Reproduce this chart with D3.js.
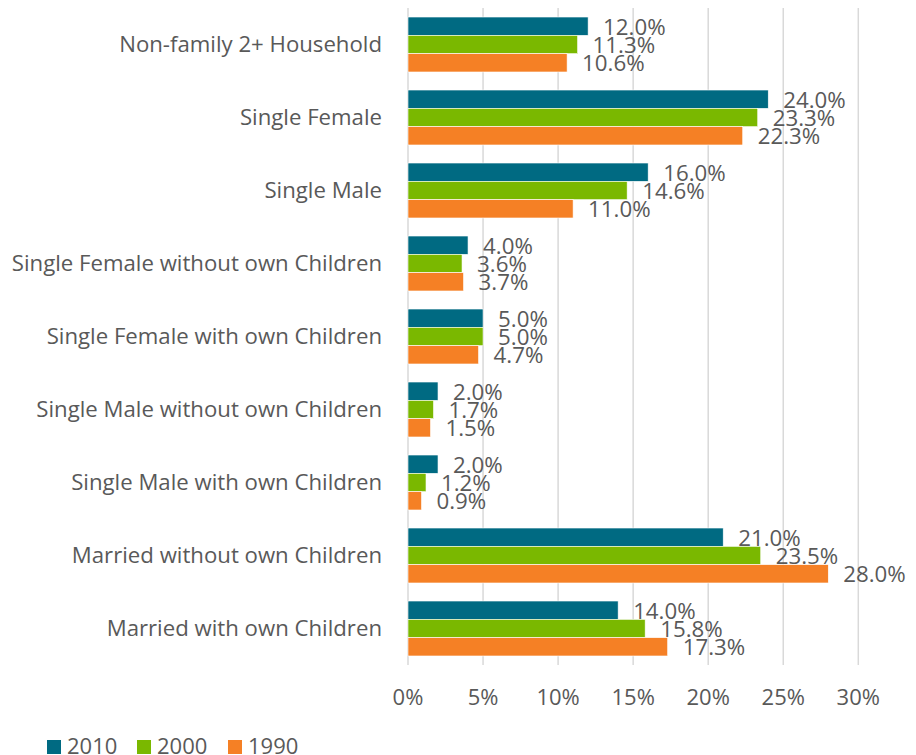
<!DOCTYPE html>
<html>
<head>
<meta charset="utf-8" />
<title>Household types</title>
<script src="https://cdn.jsdelivr.net/npm/d3@7"></script>
<style>
  body { margin: 0; background: #fff; }
  text { font-family: "Open Sans", "Noto Sans", sans-serif; fill: #595959; }
</style>
</head>
<body>
<div id="chart"></div>
<script>
var categories = ["Non-family 2+ Household", "Single Female", "Single Male",
  "Single Female without own Children", "Single Female with own Children",
  "Single Male without own Children", "Single Male with own Children",
  "Married without own Children", "Married with own Children"];
var years = ["2010", "2000", "1990"];
var values2010 = [12.0, 24.0, 16.0, 4.0, 5.0, 2.0, 2.0, 21.0, 14.0];
var values2000 = [11.3, 23.3, 14.6, 3.6, 5.0, 1.7, 1.2, 23.5, 15.8];
var values1990 = [10.6, 22.3, 11.0, 3.7, 4.7, 1.5, 0.9, 28.0, 17.3];
var xTicks = [0, 5, 10, 15, 20, 25, 30];

var colors = { "2010": "#006A82", "2000": "#7AB800", "1990": "#F58025" };
var seriesValues = { "2010": values2010, "2000": values2000, "1990": values1990 };

var width = 916, height = 755;
var plotLeft = 408, plotRight = 858.3, plotTop = 8, plotBottom = 665;

var svg = d3.select("#chart").append("svg").attr("width", width).attr("height", height);

var x = d3.scaleLinear().domain([0, 30]).range([plotLeft, plotRight]);
var y = d3.scaleBand().domain(categories).range([plotTop, plotBottom]).paddingInner(0.247).paddingOuter(0.1235);
var yInner = d3.scaleBand().domain(years).range([0, y.bandwidth()]);

// gridlines
svg.append("g").selectAll("line").data(xTicks).enter().append("line")
  .attr("x1", function(d) { return x(d); }).attr("x2", function(d) { return x(d); })
  .attr("y1", plotTop).attr("y2", plotBottom)
  .attr("stroke", "#d9d9d9").attr("stroke-width", 1.5);

// bars
var groups = svg.append("g").selectAll("g").data(categories).enter().append("g")
  .attr("transform", function(d) { return "translate(0," + y(d) + ")"; });

years.forEach(function(yr) {
  groups.append("rect")
    .attr("x", x(0))
    .attr("y", yInner(yr))
    .attr("width", function(d, i) { return x(seriesValues[yr][i]) - x(0); })
    .attr("height", yInner.bandwidth())
    .attr("fill", colors[yr])
    .attr("stroke", "#fff").attr("stroke-width", 0.6);
});
// value labels drawn after all bars so they sit on top
years.forEach(function(yr) {
  groups.append("text")
    .attr("x", function(d, i) { return x(seriesValues[yr][i]) + 15; })
    .attr("y", yInner(yr) + yInner.bandwidth() / 2 + 8.5)
    .attr("font-size", "22.3px")
    .text(function(d, i) { return seriesValues[yr][i].toFixed(1) + "%"; });
});

// category labels
svg.append("g").selectAll("text").data(categories).enter().append("text")
  .attr("x", 382)
  .attr("y", function(d) { return y(d) + y.bandwidth() / 2; })
  .attr("dy", "0.35em")
  .attr("text-anchor", "end")
  .attr("font-size", "22.2px")
  .text(function(d) { return d; });

// x tick labels
svg.append("g").selectAll("text").data(xTicks).enter().append("text")
  .attr("x", function(d) { return x(d); })
  .attr("y", 697)
  .attr("dy", "0.35em")
  .attr("text-anchor", "middle")
  .attr("font-size", "22px")
  .text(function(d) { return d + "%"; });

// legend
var legendX = [47, 137, 228];
var legend = svg.append("g").selectAll("g").data(years).enter().append("g")
  .attr("transform", function(d, i) { return "translate(" + legendX[i] + ",740)"; });
legend.append("rect").attr("width", 14).attr("height", 14)
  .attr("fill", function(d) { return colors[d]; });
legend.append("text").attr("x", 20).attr("y", 6.5).attr("dy", "0.35em")
  .attr("font-size", "22px")
  .text(function(d) { return d; });
</script>
</body>
</html>
